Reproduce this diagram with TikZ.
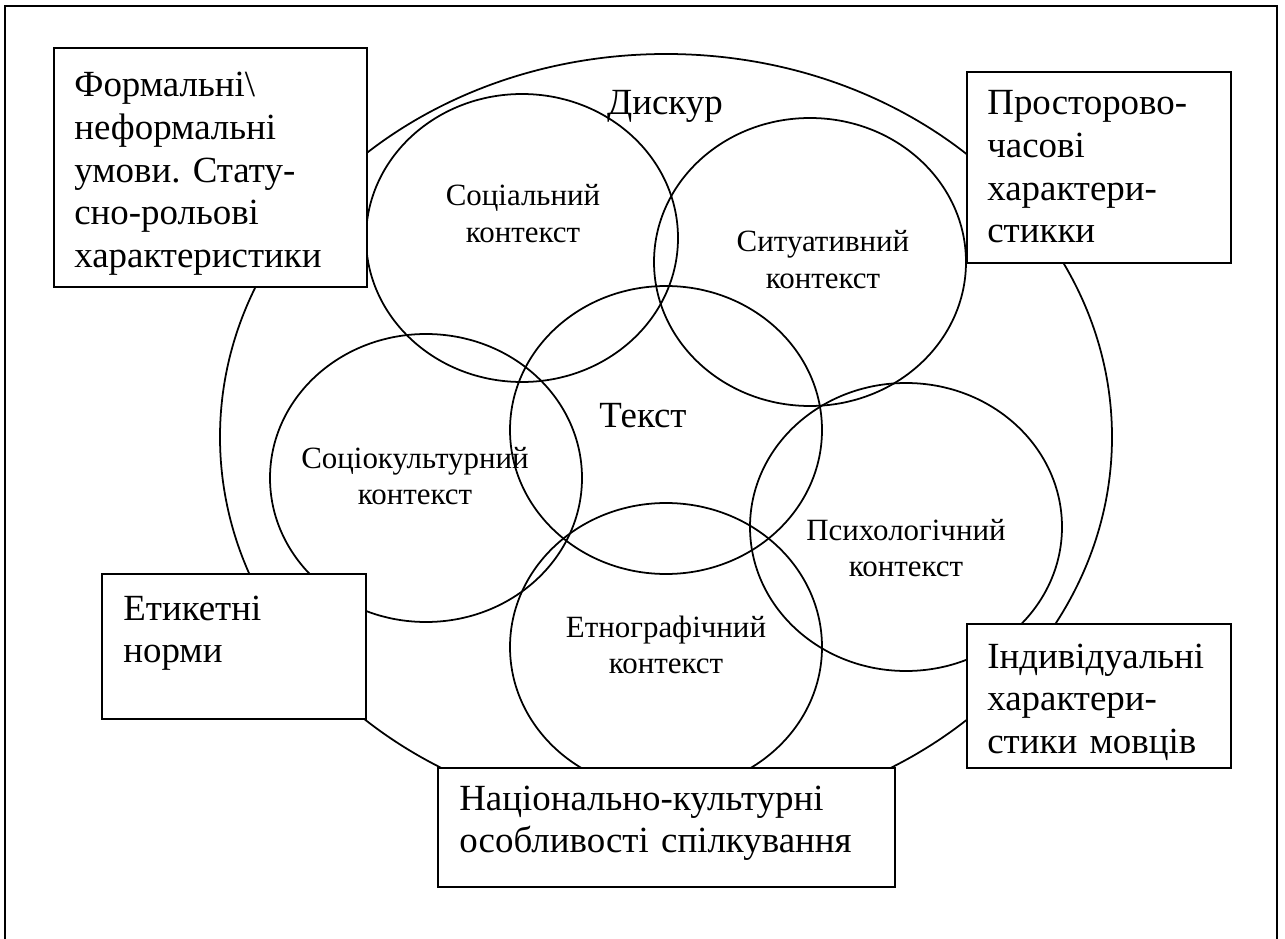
\documentclass[tikz,border=0pt]{standalone}
\usepackage{fontspec}
\setmainfont{Liberation Serif}
\usetikzlibrary{positioning, calc}
\frenchspacing

\begin{document}
\begin{tikzpicture}[x=0.02cm, y=-0.02cm,
  ring/.style={line width=1pt},
  card/.style={draw, line width=1pt, fill=white, anchor=north west, inner sep=0pt},
  cardtext/.style={anchor=base west, inner sep=0pt, text width=9cm, align=left,
    font=\fontsize{21}{24.2}\selectfont},
  ringtext/.style={anchor=base, inner sep=0pt, text width=5cm, align=center,
    font=\fontsize{17.6}{20.8}\selectfont},
  bigtext/.style={anchor=base, inner sep=0pt, font=\fontsize{21}{24.2}\selectfont}]

\useasboundingbox (0,0) rectangle (1285,939);

% --- outer frame ---
\draw[line width=1.2pt] (5,960) -- (5,6) -- (1277,6) -- (1277,960);

% --- discourse ---
\coordinate (disk) at (666,437);
\draw[ring] (disk) ellipse (446 and 383);
\node[bigtext] (diskur) at (665,115) {Дискур};

% --- contexts ---
\coordinate (soc) at (522,238);
\coordinate (sit) at (810,262);
\coordinate (txt) at (666,430);
\coordinate (scult) at (426,478);
\coordinate (psy) at (906,527);
\coordinate (eth) at (666,647);
\foreach \c in {soc,sit,txt,scult,psy,eth}
  \draw[ring] (\c) ellipse (156 and 144);

\node[ringtext] (soctxt) at (523,206) {Соціальний\\ контекст};
\node[ringtext] (sittxt) at (823,252) {Ситуативний\\ контекст};
\node[bigtext] (tekst) at (643,427) {Текст};
\node[ringtext] (scultxt) at (415,468) {Соціокультурний\\ контекст};
\node[ringtext] (psytxt) at (906,540) {Психологічний\\ контекст};
\node[ringtext] (ethtxt) at (666,637) {Етнографічний\\ контекст};

% --- boxes around ---
\node[card, minimum width=6.26cm, minimum height=4.78cm] (formal) at (53,47) {};
\node[cardtext] (formaltxt) at ([shift={(21,50)}]formal.north west)
  {Формальні\textbackslash\\ неформальні\\ умови. Стату-\\ сно-рольові\\ характеристики};

\node[card, minimum width=5.28cm, minimum height=3.82cm] (prost) at (966,71) {};
\node[cardtext] (prosttxt) at ([shift={(21,44)}]prost.north west)
  {Просторово-\\ часові\\ характери-\\ стикки};

\node[card, minimum width=5.28cm, minimum height=2.9cm] (etyk) at (101,573) {};
\node[cardtext] (etyktxt) at ([shift={(22,47)}]etyk.north west)
  {Етикетні\\ норми};

\node[card, minimum width=5.28cm, minimum height=2.88cm] (indiv) at (966,623) {};
\node[cardtext] (indivtxt) at ([shift={(21,45)}]indiv.north west)
  {Індивідуальні\\ характери-\\ стики мовців};

\node[card, minimum width=9.14cm, minimum height=2.38cm] (nats) at (437,767) {};
\node[cardtext] (natstxt) at ([shift={(22,43)}]nats.north west)
  {Національно-культурні\\ особливості спілкування};

\end{tikzpicture}
\end{document}
